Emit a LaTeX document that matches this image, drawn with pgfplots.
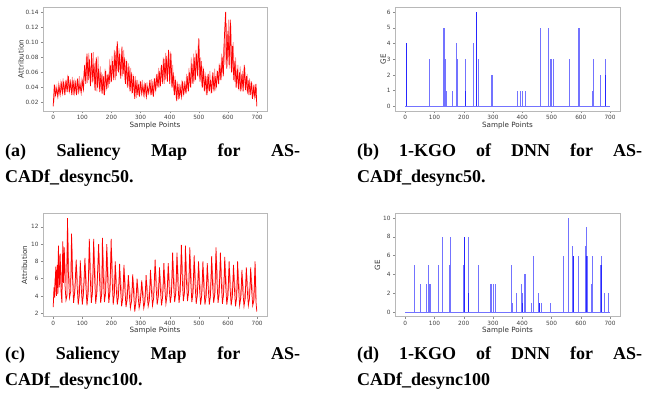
\documentclass[border=0pt]{standalone}
\usepackage{fontspec}
\setmainfont{Liberation Serif}
\newfontfamily\tickfont{DejaVu Sans}
\usepackage{pgfplots}
\pgfplotsset{compat=1.18}
\definecolor{geblue}{RGB}{115,115,255}
\definecolor{pinkred}{RGB}{255,150,150}
\pgfplotsset{
  panel/.style={
    scale only axis, width=224pt, height=104pt,
    axis line style={draw=black!28, line width=0.6pt},
    tick style={draw=black!45, line width=0.4pt},
    major tick length=2pt, tick align=outside,
    xtick pos=bottom, ytick pos=left,
    ticklabel style={font=\tickfont\fontsize{5.8}{6.5}\selectfont, text=black!75},
    /pgf/number format/assume math mode=true,
    label style={font=\tickfont\fontsize{7.2}{8}\selectfont, text=black!80},
    xlabel={Sample Points},
    xmin=-35, xmax=734,
    xtick={0,100,...,700},
    xticklabel style={yshift=1pt},
    yticklabel style={xshift=1pt},
    xlabel style={yshift=5pt},
    clip=true,
  },
}
\tikzset{capt/.style={anchor=north west, inner sep=0pt, align=justify,
    font=\bfseries\fontsize{18}{25.5}\selectfont}}
\begin{document}
\begin{tikzpicture}[x=1pt,y=1pt]
\path[use as bounding box] (0,0) rectangle (652,397);

% (a) saliency desync50
\begin{axis}[panel, at={(43pt,286pt)}, anchor=south west,
  ymin=0.009, ymax=0.1466,
  ytick={0.02,0.04,0.06,0.08,0.10,0.12,0.14},
  yticklabels={0.02,0.04,0.06,0.08,0.10,0.12,0.14},
  ylabel={Attribution}, ylabel style={yshift=-5pt}]
\addplot[pinkred, line width=0.8pt] table {
2 0.020
6 0.036
10 0.042
14 0.030
18 0.045
22 0.033
26 0.047
30 0.036
34 0.052
38 0.032
42 0.046
46 0.040
50 0.057
54 0.034
58 0.050
62 0.035
66 0.054
70 0.030
74 0.048
78 0.036
82 0.050
86 0.031
90 0.055
94 0.036
98 0.050
102 0.040
106 0.062
110 0.050
114 0.080
118 0.046
122 0.086
126 0.052
130 0.070
134 0.046
138 0.087
142 0.040
146 0.075
150 0.035
154 0.082
158 0.038
162 0.068
166 0.035
170 0.058
174 0.030
178 0.065
182 0.036
186 0.056
190 0.040
194 0.078
198 0.047
202 0.082
206 0.055
210 0.090
214 0.050
218 0.095
222 0.062
226 0.092
230 0.056
234 0.085
238 0.055
242 0.090
246 0.050
250 0.078
254 0.042
258 0.072
262 0.038
266 0.066
270 0.032
274 0.058
278 0.030
282 0.055
286 0.026
290 0.050
294 0.030
298 0.046
302 0.034
306 0.050
310 0.028
314 0.044
318 0.032
322 0.047
326 0.030
330 0.045
334 0.034
338 0.051
342 0.030
346 0.048
350 0.036
354 0.056
358 0.042
362 0.066
366 0.040
370 0.068
374 0.048
378 0.080
382 0.045
386 0.086
390 0.052
394 0.080
398 0.060
402 0.088
406 0.042
410 0.070
414 0.035
418 0.055
422 0.026
426 0.048
430 0.024
434 0.045
438 0.030
442 0.050
446 0.028
450 0.048
454 0.034
458 0.058
462 0.038
466 0.066
470 0.042
474 0.080
478 0.046
482 0.085
486 0.048
490 0.090
494 0.060
498 0.098
502 0.052
506 0.080
510 0.042
514 0.068
518 0.036
522 0.060
526 0.030
530 0.055
534 0.036
538 0.062
542 0.032
546 0.056
550 0.038
554 0.065
558 0.036
562 0.058
566 0.048
570 0.072
574 0.050
578 0.085
582 0.060
586 0.098
590 0.070
594 0.125
598 0.075
602 0.130
606 0.065
610 0.122
614 0.060
618 0.100
622 0.048
626 0.080
630 0.042
634 0.070
638 0.036
642 0.068
646 0.038
650 0.062
654 0.040
658 0.066
662 0.035
666 0.058
670 0.030
674 0.052
678 0.030
682 0.046
686 0.028
690 0.044
694 0.026
698 0.040
};
\addplot[red, line width=0.75pt] table {
0 0.015
4 0.044
8 0.030
12 0.038
16 0.028
20 0.042
24 0.031
28 0.045
32 0.033
36 0.048
40 0.030
44 0.050
48 0.034
52 0.055
56 0.036
60 0.047
64 0.030
68 0.050
72 0.033
76 0.046
80 0.030
84 0.052
88 0.035
92 0.044
96 0.033
100 0.048
104 0.038
108 0.070
112 0.045
116 0.085
120 0.050
124 0.078
128 0.042
132 0.086
136 0.048
140 0.072
144 0.036
148 0.080
152 0.040
156 0.065
160 0.034
164 0.060
168 0.032
172 0.055
176 0.030
180 0.062
184 0.038
188 0.058
192 0.045
196 0.070
200 0.048
204 0.075
208 0.050
212 0.088
216 0.055
220 0.101
224 0.060
228 0.085
232 0.052
236 0.094
240 0.058
244 0.080
248 0.045
252 0.075
256 0.040
260 0.068
264 0.035
268 0.060
272 0.033
276 0.055
280 0.025
284 0.050
288 0.030
292 0.045
296 0.028
300 0.048
304 0.032
308 0.042
312 0.030
316 0.046
320 0.028
324 0.040
328 0.033
332 0.050
336 0.030
340 0.044
344 0.028
348 0.052
352 0.035
356 0.058
360 0.040
364 0.062
368 0.042
372 0.070
376 0.045
380 0.078
384 0.050
388 0.082
392 0.048
396 0.090
400 0.045
404 0.085
408 0.040
412 0.060
416 0.030
420 0.050
424 0.022
428 0.045
432 0.025
436 0.040
440 0.028
444 0.048
448 0.030
452 0.045
456 0.032
460 0.055
464 0.035
468 0.060
472 0.040
476 0.072
480 0.045
484 0.080
488 0.050
492 0.085
496 0.055
500 0.105
504 0.048
508 0.075
512 0.040
516 0.065
520 0.035
524 0.055
528 0.030
532 0.058
536 0.035
540 0.050
544 0.033
548 0.060
552 0.035
556 0.055
560 0.040
564 0.062
568 0.045
572 0.070
576 0.050
580 0.080
584 0.055
588 0.110
592 0.140
596 0.065
600 0.115
604 0.070
608 0.130
612 0.060
616 0.095
620 0.050
624 0.075
628 0.040
632 0.065
636 0.038
640 0.060
644 0.035
648 0.058
652 0.035
656 0.070
660 0.037
664 0.055
668 0.032
672 0.050
676 0.030
680 0.048
684 0.025
688 0.040
692 0.028
696 0.045
699 0.015
};
\end{axis}

% (b) GE desync50
\begin{axis}[panel, at={(395pt,286pt)}, anchor=south west, width=225pt,
  ymin=-0.3, ymax=6.32, ytick={0,1,2,3,4,5,6},
  ylabel={GE}, ylabel style={yshift=-6pt}]
\addplot[geblue, line width=0.8pt] coordinates {(0,0) (699,0)};
\addplot[geblue, ycomb, line width=0.8pt] coordinates {
(3,4) (81,3) (131,5) (133,5) (136,3) (139,1) (161,1) (174,4) (178,3)
(205,3) (233,4) (243,6) (250,3) (295,2) (297,2) (383,1) (393,1) (400,1)
(410,1) (462,5) (489,5) (497,3) (499,3) (506,3) (560,3) (593,5) (595,5)
(640,1) (644,3) (667,2) (683,2) (685,3)};
\addplot[blue!85, ycomb, line width=0.6pt] coordinates {(205,1) (683,2) (3,4) (243,6)};
\end{axis}

% (c) saliency desync100
\begin{axis}[panel, at={(43pt,80.3pt)}, anchor=south west, height=103.4pt,
  ymin=1.6, ymax=13.55, ytick={2,4,6,8,10,12},
  ylabel={Attribution}, ylabel style={yshift=-3pt}]
\addplot[pinkred, line width=0.8pt] table {
1 3.5
6 6.0
10 6.5
15 7.0
19 8.8
22 6.0
25 8.0
28 5.0
34 9.3
37 7.0
39 8.6
43 5.5
50 11.7
54 6.5
58 5.0
62 7.0
64 10.1
68 5.8
73 4.0
80 7.4
84 5.6
89 3.8
94 7.3
98 5.6
103 3.8
110 7.6
114 5.7
119 3.9
125 9.5
129 6.8
134 3.9
140 9.5
144 6.8
149 3.9
157 9.0
161 6.5
166 3.9
170 9.6
174 6.9
179 3.9
185 9.0
189 6.5
194 3.9
200 9.5
204 6.8
209 3.9
214 7.2
218 5.5
223 3.6
229 6.9
233 5.4
238 3.4
244 6.8
248 5.3
253 3.3
259 5.8
263 4.7
268 3.2
274 5.9
278 4.8
283 3.0
289 5.4
293 4.5
298 3.1
305 5.2
309 4.4
314 3.2
320 5.8
324 4.7
329 3.3
335 6.3
339 5.0
344 3.5
351 7.4
355 5.6
360 3.8
366 6.6
370 5.2
375 3.7
381 7.0
385 5.4
390 3.8
396 7.0
400 5.4
405 3.8
411 8.1
415 6.0
420 3.9
426 8.1
430 6.0
435 3.9
441 8.9
445 6.5
450 4.0
455 8.8
459 6.4
464 4.0
470 8.6
474 6.3
479 3.9
485 7.8
489 5.9
494 3.8
500 7.2
504 5.5
509 3.8
515 7.2
519 5.5
524 3.7
530 7.0
534 5.4
539 3.7
545 7.7
549 5.8
554 3.9
560 8.6
564 6.3
569 3.9
575 8.1
579 6.0
584 3.8
590 7.7
594 5.8
599 3.7
605 7.2
609 5.5
614 3.6
620 6.8
624 5.3
629 3.5
634 7.2
638 5.5
643 3.5
649 6.3
653 5.0
658 3.4
664 6.6
668 5.2
673 3.4
679 6.6
683 5.2
688 3.4
694 7.2
697 3.6
};
\addplot[red, line width=0.75pt] table {
0 2.7
3 5.0
5 3.8
9 7.4
11 4.0
14 7.6
16 4.2
18 9.8
21 5.0
24 8.9
27 4.5
30 3.2
33 10.3
35 5.5
38 9.6
41 5.0
44 3.5
47 4.0
49 13.0
52 6.8
56 3.8
60 4.5
63 11.2
66 6.5
70 3.2
74 4.5
79 8.2
82 5.2
86 3.0
90 4.3
93 8.1
96 5.1
100 3.0
104 4.4
109 8.4
112 5.3
116 2.9
120 4.5
124 10.6
127 6.3
131 3.2
135 4.6
139 10.6
142 6.3
146 3.1
150 4.5
156 10.0
159 6.0
163 3.2
167 4.4
169 10.7
172 6.3
176 3.3
180 4.5
184 10.0
187 6.0
191 3.2
195 4.6
199 10.6
202 6.3
206 3.0
210 4.3
213 8.0
216 5.1
220 3.0
224 4.0
228 7.7
231 4.9
235 2.8
239 3.8
243 7.6
246 4.9
250 2.7
254 3.7
258 6.4
261 4.3
265 2.6
269 3.4
273 6.5
276 4.4
280 2.2
284 3.3
288 6.0
291 4.2
295 2.6
299 3.3
304 5.8
307 4.1
311 2.6
315 3.4
319 6.4
322 4.4
326 2.8
330 3.5
334 7.0
337 4.7
341 2.9
345 3.8
350 8.2
353 5.2
357 3.0
361 4.0
365 7.3
368 4.8
372 2.9
376 4.0
380 7.8
383 5.0
387 3.1
391 4.1
395 7.8
398 5.0
402 3.2
406 4.3
410 9.0
413 5.6
417 3.3
421 4.4
425 9.0
428 5.6
432 3.2
436 4.5
440 9.9
443 6.0
447 3.4
451 4.6
454 9.8
457 6.0
461 3.4
465 4.6
469 9.6
472 5.8
476 3.3
480 4.4
484 8.7
487 5.4
491 3.1
495 4.2
499 8.0
502 5.1
506 3.0
510 4.1
514 8.0
517 5.1
521 3.0
525 4.0
529 7.8
532 5.0
536 3.0
540 4.1
544 8.6
547 5.4
551 3.2
555 4.3
559 9.6
562 5.8
566 3.2
570 4.4
574 9.0
577 5.6
581 3.1
585 4.3
589 8.5
592 5.3
596 3.0
600 4.1
604 8.0
607 5.1
611 2.9
615 4.0
619 7.6
622 4.9
626 2.8
630 3.9
633 8.0
636 5.1
640 2.9
644 3.8
648 7.0
651 4.6
655 2.8
659 3.7
663 7.3
666 4.8
670 2.9
674 3.8
678 7.3
681 4.8
685 2.9
689 3.5
693 8.0
696 3.4
699 2.2
};
\end{axis}

% (d) GE desync100
\begin{axis}[panel, at={(395pt,80.3pt)}, anchor=south west, width=225pt, height=103.4pt,
  ymin=-0.5, ymax=10.5, ytick={0,2,4,6,8,10},
  ylabel={GE}, ylabel style={yshift=-4pt}]
\addplot[geblue, line width=0.8pt] coordinates {(0,0) (699,0)};
\addplot[geblue, ycomb, line width=0.8pt] coordinates {
(31,5) (51,3) (53,3) (72,3) (79,5) (82,3) (85,3) (87,3) (113,5) (127,8)
(151,5) (155,8) (198,5) (202,8) (217,8) (250,5) (292,3) (295,3) (301,3)
(308,3) (363,5) (367,1) (380,2) (397,3) (401,2) (407,4) (410,4) (430,1)
(438,6) (455,2) (458,1) (465,1) (496,1) (540,6) (558,10) (572,7) (574,6)
(576,3) (591,3) (593,6) (616,7) (619,9) (621,6) (636,3) (638,6) (667,5)
(670,6) (682,2) (694,2)};
\addplot[blue!85, ycomb, line width=0.6pt] coordinates {(202,8) (215,2) (401,1) (458,1) (574,6) (619,6) (670,5)};
\end{axis}

% captions
\node[capt, text width=295pt] at (5,253)
  {(a) Saliency Map for AS-\linebreak CADf\_desync50.};
\node[capt, text width=285pt] at (357,253)
  {(b) 1-KGO of DNN for AS-\linebreak CADf\_desync50.};
\node[capt, text width=295pt] at (5,50)
  {(c) Saliency Map for AS-\linebreak CADf\_desync100.};
\node[capt, text width=285pt] at (357,50)
  {(d) 1-KGO of DNN for AS-\linebreak CADf\_desync100};
\end{tikzpicture}
\end{document}
